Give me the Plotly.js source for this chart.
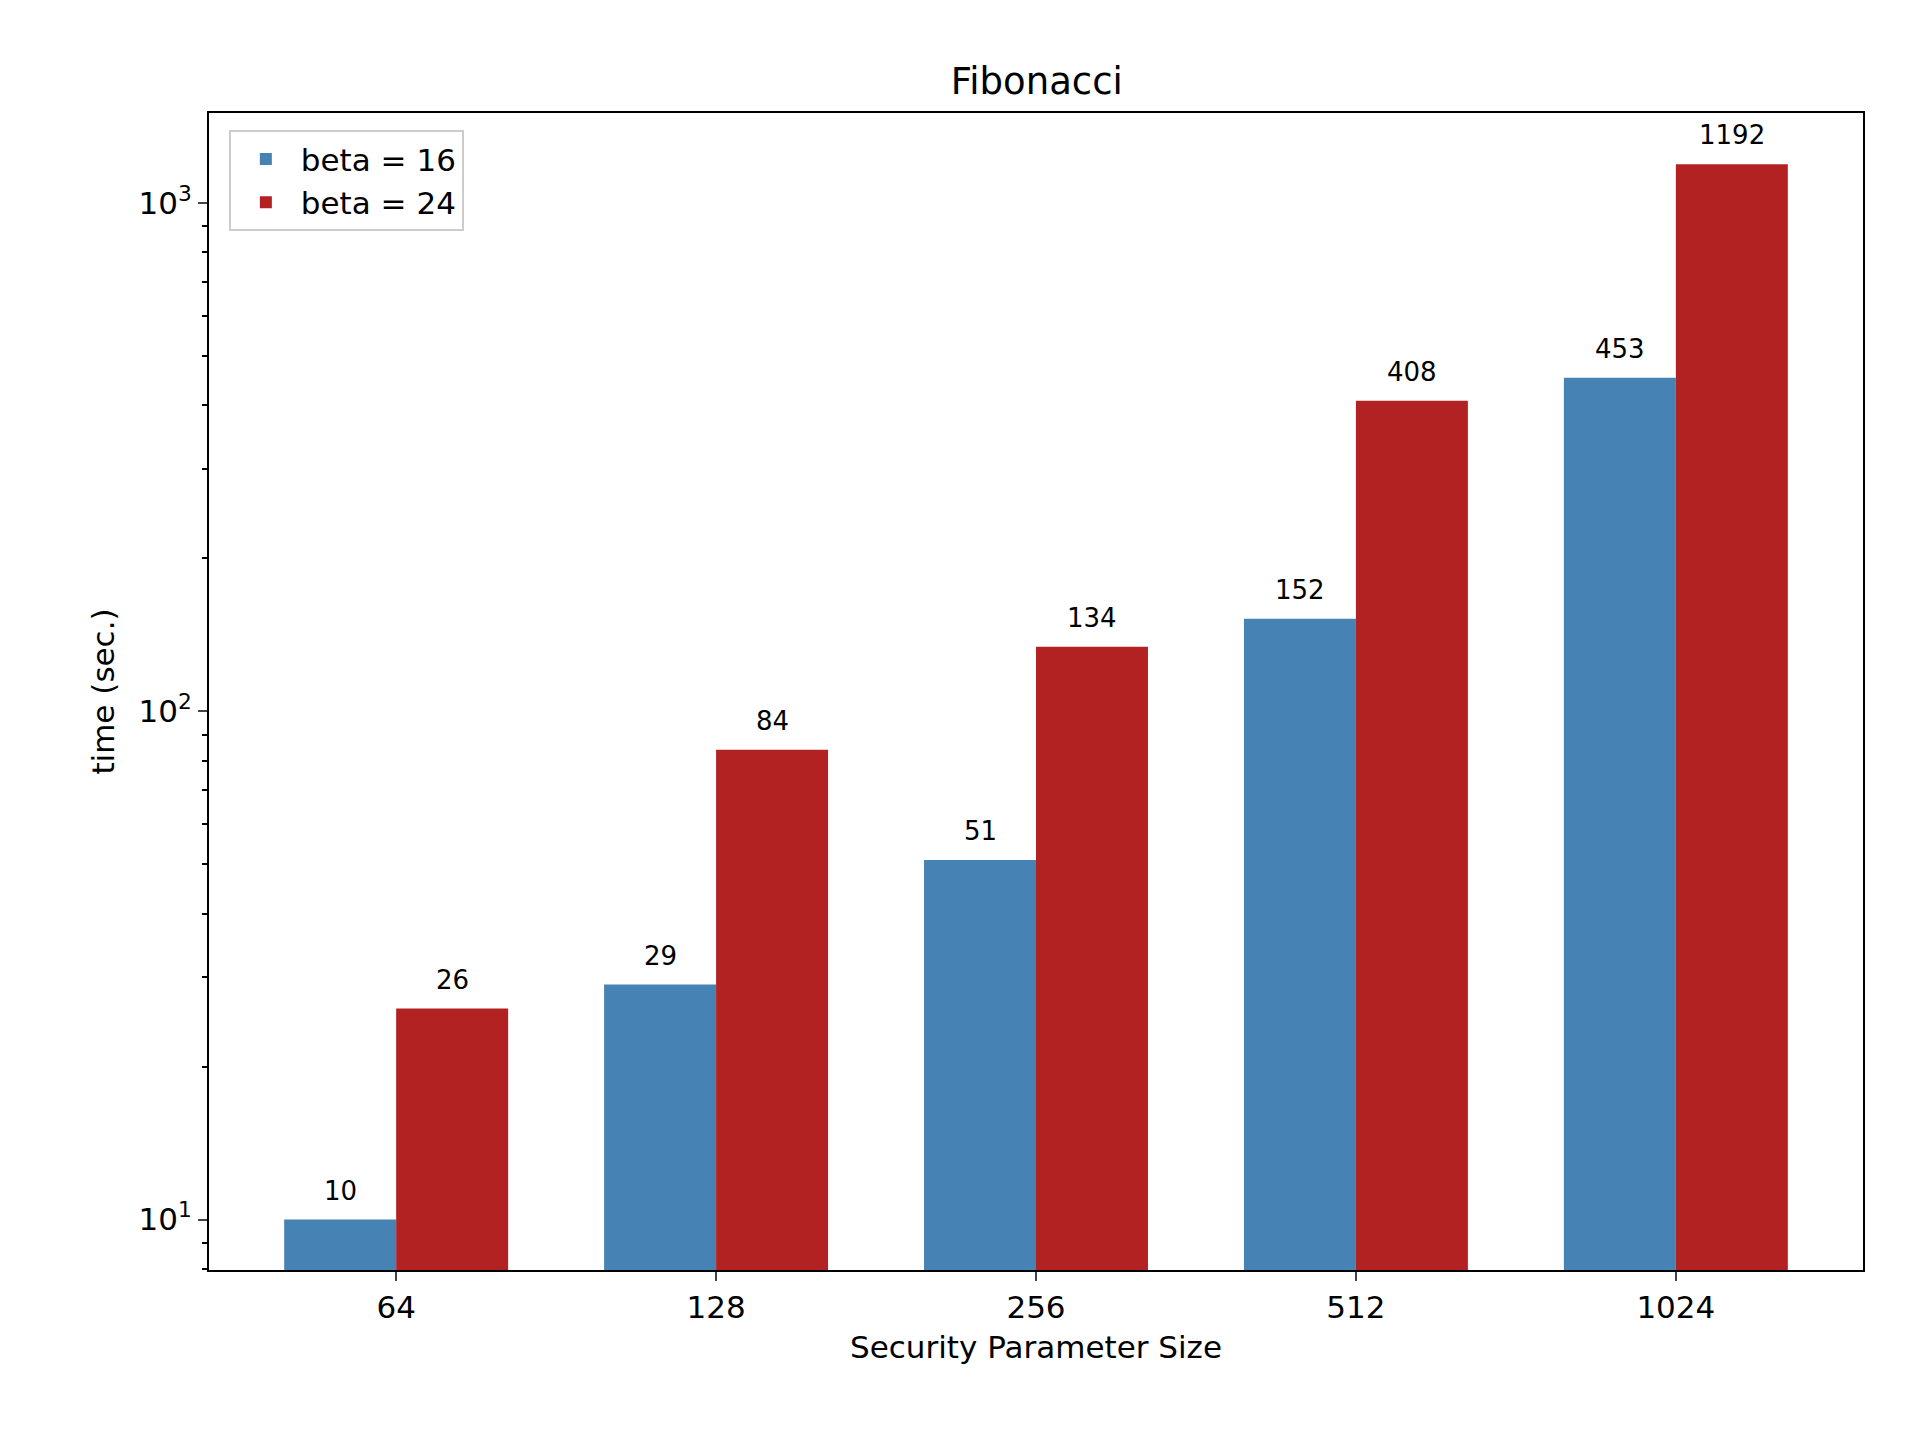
<!DOCTYPE html>
<html>
<head>
<meta charset="utf-8">
<script src="https://cdn.plot.ly/plotly-3.0.1.min.js"></script>
<style>body{margin:0;background:#fff}#plot{width:1920px;height:1440px}</style>
</head>
<body>
<div id="plot"></div>
<script>
const sizes = ["64", "128", "256", "512", "1024"];
const beta16 = [10, 29, 51, 152, 453];
const beta24 = [26, 84, 134, 408, 1192];
const minorTicks = [8, 9, 20, 30, 40, 50, 60, 70, 80, 90, 200, 300, 400, 500, 600, 700, 800, 900];

const font = { family: "DejaVu Sans", color: "#000" };

const traces = [
  { x: sizes, y: beta16, type: "bar", name: "beta = 16", marker: { color: "#4682b4" } },
  { x: sizes, y: beta24, type: "bar", name: "beta = 24", marker: { color: "#b22222" } },
];

// value labels above each bar
const annotations = [];
sizes.forEach((s, i) => {
  annotations.push({ x: i - 0.175, y: Math.log10(beta16[i]), xref: "x", yref: "y", text: String(beta16[i]),
    showarrow: false, yanchor: "bottom", yshift: 12, font: { ...font, size: 26 } });
  annotations.push({ x: i + 0.175, y: Math.log10(beta24[i]), xref: "x", yref: "y", text: String(beta24[i]),
    showarrow: false, yanchor: "bottom", yshift: 12, font: { ...font, size: 26 } });
});

const layout = {
  width: 1920, height: 1440,
  margin: { l: 209, r: 57, t: 113, b: 170 },
  paper_bgcolor: "#fff", plot_bgcolor: "#fff",
  font: { ...font, size: 31 },
  title: { text: "Fibonacci", font: { ...font, size: 37 }, x: 0.54, xanchor: "center", y: 0.935, yanchor: "bottom" },
  barmode: "group", bargap: 0.3, bargroupgap: 0,
  annotations,
  xaxis: {
    type: "category", range: [-0.585, 4.585],
    showline: true, mirror: true, linecolor: "#000", linewidth: 2,
    ticks: "outside", ticklen: 9, tickwidth: 2, showgrid: false,
    tickfont: { ...font, size: 31 },
    title: { text: "Security Parameter Size", font: { ...font, size: 31 }, standoff: 12 },
  },
  yaxis: {
    type: "log", range: [0.9007, 3.177],
    showline: true, mirror: true, linecolor: "#000", linewidth: 2,
    ticks: "outside", ticklen: 9, tickwidth: 2, showgrid: false, zeroline: false,
    tickvals: [10, 100, 1000],
    ticktext: ["10<sup>1</sup>", "10<sup>2</sup>", "10<sup>3</sup>"],
    tickfont: { ...font, size: 31 },
    minor: { tickvals: minorTicks, ticks: "outside", ticklen: 5, tickwidth: 1.5, tickcolor: "#000", showgrid: false },
    title: { text: "time (sec.)", font: { ...font, size: 31 }, standoff: 15 },
  },
  legend: {
    x: 0.012, y: 0.985, xanchor: "left", yanchor: "top",
    bordercolor: "#ccc", borderwidth: 2, bgcolor: "rgba(255,255,255,0.8)",
    font: { ...font, size: 31 }, itemwidth: 60, tracegroupgap: 10,
  },
};

Plotly.newPlot(document.querySelector("#plot"), traces, layout, { displayModeBar: false });
</script>
</body>
</html>
